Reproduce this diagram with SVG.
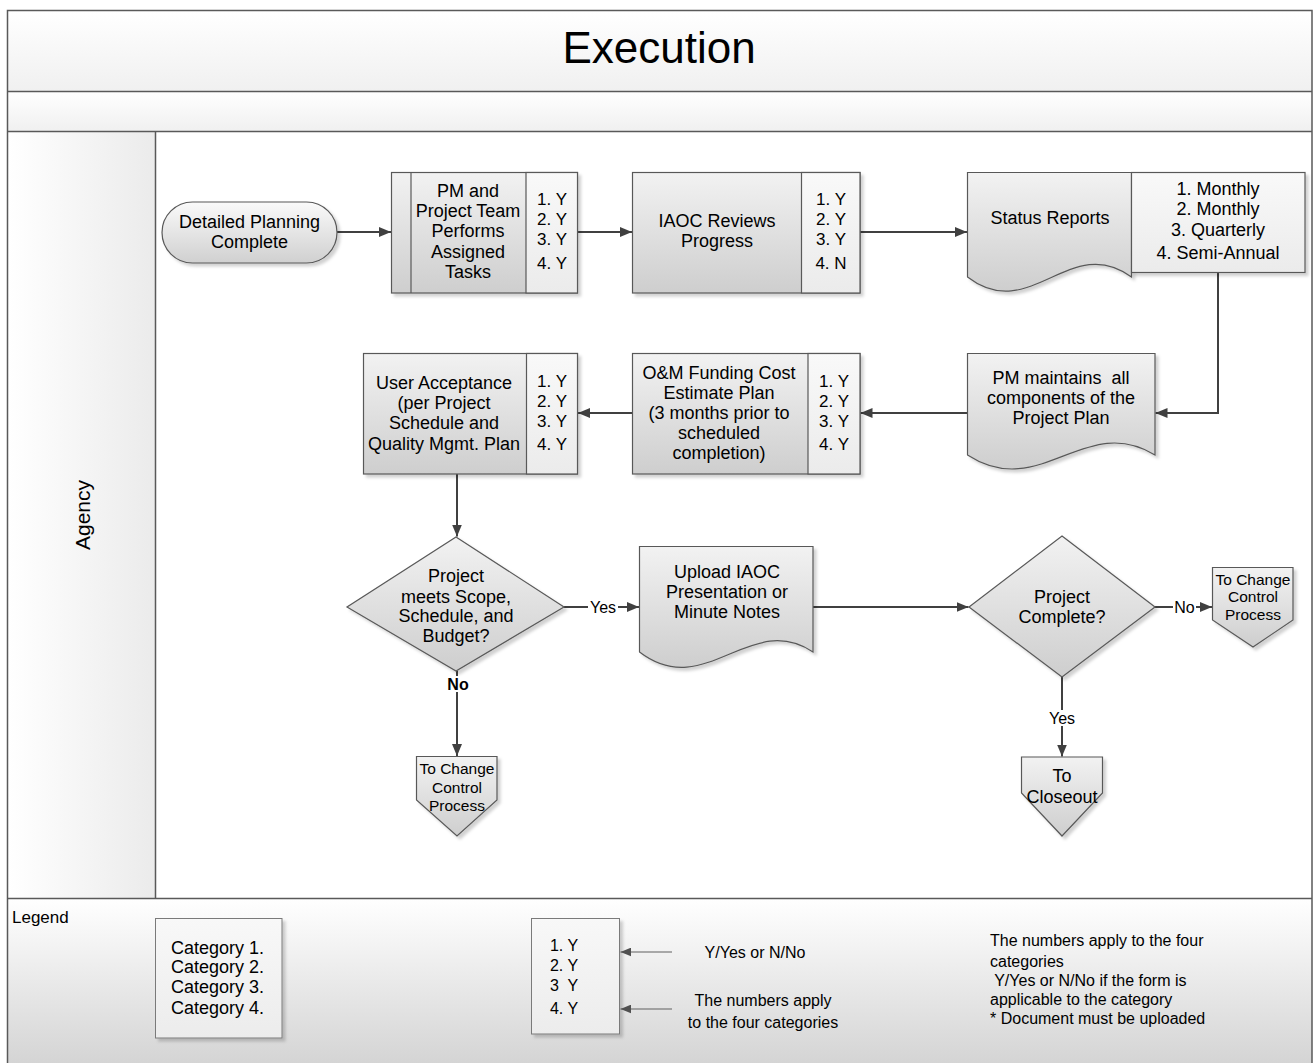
<svg xmlns="http://www.w3.org/2000/svg" width="1316" height="1063" viewBox="0 0 1316 1063">
<defs>
<linearGradient id="gTitle" x1="0" y1="0" x2="0" y2="1"><stop offset="0" stop-color="#ffffff"/><stop offset="1" stop-color="#f0f0f0"/></linearGradient>
<linearGradient id="gHead" x1="0" y1="0" x2="1" y2="0"><stop offset="0" stop-color="#ffffff"/><stop offset="1" stop-color="#ebebeb"/></linearGradient>
<linearGradient id="gLegend" x1="0" y1="0" x2="0" y2="1"><stop offset="0" stop-color="#ffffff"/><stop offset="1" stop-color="#d3d3d3"/></linearGradient>
<linearGradient id="gBox" x1="0" y1="0" x2="0" y2="1"><stop offset="0" stop-color="#f2f2f2"/><stop offset="1" stop-color="#cecece"/></linearGradient>
<linearGradient id="gPanel" x1="0" y1="0" x2="0" y2="1"><stop offset="0" stop-color="#f9f9f9"/><stop offset="1" stop-color="#ebebeb"/></linearGradient>
<linearGradient id="gTerm" x1="0" y1="0" x2="0" y2="1"><stop offset="0" stop-color="#fafafa"/><stop offset="1" stop-color="#d0d0d0"/></linearGradient>
<linearGradient id="gLeg" x1="0" y1="0" x2="0" y2="1"><stop offset="0" stop-color="#f8f8f8"/><stop offset="1" stop-color="#ececec"/></linearGradient>
<filter id="sh" x="-10%" y="-10%" width="130%" height="130%"><feDropShadow dx="3" dy="3" stdDeviation="1.5" flood-color="#000" flood-opacity="0.18"/></filter>
<marker id="arr" viewBox="0 0 12 10" refX="12" refY="5" markerWidth="12" markerHeight="10" markerUnits="userSpaceOnUse" orient="auto"><path d="M0,0 L12,5 L0,10 Z" fill="#404040"/></marker>
<marker id="arrS" viewBox="0 0 12 10" refX="12" refY="5" markerWidth="11" markerHeight="9" markerUnits="userSpaceOnUse" orient="auto"><path d="M0,0 L12,5 L0,10 Z" fill="#505050"/></marker>
</defs>
<style>
.frame{fill:none;stroke:#595959;stroke-width:1.5}
.ln{stroke:#595959;stroke-width:1.5;fill:none}
.box{fill:url(#gBox);stroke:#595959;stroke-width:1.2;filter:url(#sh)}
.panel{fill:url(#gPanel);stroke:#595959;stroke-width:1.2}
.term{fill:url(#gTerm);stroke:#595959;stroke-width:1.2;filter:url(#sh)}
.leg{fill:url(#gLeg);stroke:#7a7a7a;stroke-width:1;filter:url(#sh)}
.con{stroke:#404040;stroke-width:2;fill:none;marker-end:url(#arr)}
.conS{stroke:#606060;stroke-width:1.2;fill:none;marker-end:url(#arrS)}
text{font-family:"Liberation Sans",Arial,sans-serif;fill:#000;dominant-baseline:central}
.t{font-size:18px;text-anchor:middle}
.n{font-size:17px;text-anchor:middle}
.s{font-size:15.5px;text-anchor:middle}
.lab{font-size:16px;text-anchor:middle}
.lg{font-size:16px}
.cat{font-size:18px}
.bg{fill:#ffffff}
</style>

<g id="pool">
<rect x="7.5" y="10.5" width="1304.5" height="81" fill="url(#gTitle)"/>
<rect x="7.5" y="91.5" width="1304.5" height="40" fill="url(#gTitle)"/>
<rect x="7.5" y="131.5" width="148" height="767" fill="url(#gHead)"/>
<rect x="155.5" y="131.5" width="1156.5" height="767" fill="#ffffff"/>
<rect x="7.5" y="898.5" width="1304.5" height="170" fill="url(#gLegend)"/>
<path class="frame" d="M7.5,1070 V10.5 H1312 V1070"/>
<path class="ln" d="M7.5,91.5 H1312 M7.5,131.5 H1312 M7.5,898.5 H1312 M155.5,131.5 V898.5"/>
<text x="659" y="47" style="font-size:44px;text-anchor:middle">Execution</text>
<text transform="translate(82,515) rotate(-90)" style="font-size:21px;text-anchor:middle">Agency</text>
</g>

<g id="connectors">
<path class="con" d="M337,232 H391"/>
<path class="con" d="M577.5,232 H632"/>
<path class="con" d="M860,232 H967"/>
<path class="con" d="M1218,272.5 V413 H1155.5"/>
<path class="con" d="M967.5,413 H860.5"/>
<path class="con" d="M632.5,413 H578"/>
<path class="con" d="M457,474 V536.5"/>
<path class="con" d="M564,607 H639"/>
<rect class="bg" x="588" y="599" width="30" height="16"/>
<text class="lab" x="603" y="607">Yes</text>
<path class="con" d="M813,607 H968.5"/>
<path class="con" d="M1155,607 H1212"/>
<rect class="bg" x="1173" y="599" width="23" height="16"/>
<text class="lab" x="1184.5" y="607">No</text>
<path class="con" d="M1062,677 V756.5"/>
<rect class="bg" x="1047" y="710" width="30" height="16"/>
<text class="lab" x="1062" y="718">Yes</text>
<path class="con" d="M457,671 V756"/>
<rect class="bg" x="445" y="676" width="25" height="16"/>
<text class="lab" x="458" y="684" style="font-weight:bold">No</text>
</g>

<g id="n-start">
<rect class="term" x="162" y="202" width="175" height="61" rx="30.5"/>
<text class="t" x="249.5" y="222">Detailed Planning</text>
<text class="t" x="249.5" y="242">Complete</text>
</g>

<g id="n-perform">
<rect class="box" x="391.5" y="172.5" width="186" height="120.5"/>
<rect class="panel" x="526" y="172.5" width="51.5" height="120.5"/>
<path class="ln" d="M411,172.5 V293" style="stroke-width:1.2"/>
<text class="t" x="468" y="191">PM and</text>
<text class="t" x="468" y="211">Project Team</text>
<text class="t" x="468" y="231">Performs</text>
<text class="t" x="468" y="252">Assigned</text>
<text class="t" x="468" y="272">Tasks</text>
<text class="n" x="552" y="199">1. Y</text>
<text class="n" x="552" y="219">2. Y</text>
<text class="n" x="552" y="239">3. Y</text>
<text class="n" x="552" y="263">4. Y</text>
</g>

<g id="n-iaoc">
<rect class="box" x="632.5" y="172.5" width="227.5" height="120.5"/>
<rect class="panel" x="801.5" y="172.5" width="58.5" height="120.5"/>
<text class="t" x="717" y="221">IAOC Reviews</text>
<text class="t" x="717" y="241">Progress</text>
<text class="n" x="831" y="199">1. Y</text>
<text class="n" x="831" y="219">2. Y</text>
<text class="n" x="831" y="239">3. Y</text>
<text class="n" x="831" y="263">4. N</text>
</g>

<g id="n-status">
<path class="box" d="M967.5,172.5 H1131.5 V277 C1070,232 1030,325 967.5,277 Z"/>
<rect class="panel" x="1131.5" y="172.5" width="173.5" height="100" style="filter:url(#sh)"/>
<text class="t" x="1050" y="218">Status Reports</text>
<text class="t" x="1218" y="189">1. Monthly</text>
<text class="t" x="1218" y="209">2. Monthly</text>
<text class="t" x="1218" y="230">3. Quarterly</text>
<text class="t" x="1218" y="253">4. Semi-Annual</text>
</g>

<g id="n-pm">
<path class="box" d="M967.5,353.5 H1155 V455 C1085,412 1040,502 967.5,455 Z"/>
<text class="t" x="1061" y="378" style="white-space:pre">PM maintains  all</text>
<text class="t" x="1061" y="398">components of the</text>
<text class="t" x="1061" y="418">Project Plan</text>
</g>

<g id="n-om">
<rect class="box" x="632.5" y="353.5" width="227.5" height="120.5"/>
<rect class="panel" x="808" y="353.5" width="52" height="120.5"/>
<text class="t" x="719" y="373">O&amp;M Funding Cost</text>
<text class="t" x="719" y="393">Estimate Plan</text>
<text class="t" x="719" y="413">(3 months prior to</text>
<text class="t" x="719" y="433">scheduled</text>
<text class="t" x="719" y="453">completion)</text>
<text class="n" x="834" y="381">1. Y</text>
<text class="n" x="834" y="401">2. Y</text>
<text class="n" x="834" y="421">3. Y</text>
<text class="n" x="834" y="444">4. Y</text>
</g>

<g id="n-ua">
<rect class="box" x="363.5" y="353.5" width="214" height="120.5"/>
<rect class="panel" x="526.5" y="353.5" width="51" height="120.5"/>
<text class="t" x="444" y="383">User Acceptance</text>
<text class="t" x="444" y="403">(per Project</text>
<text class="t" x="444" y="423">Schedule and</text>
<text class="t" x="444" y="444">Quality Mgmt. Plan</text>
<text class="n" x="552" y="381">1. Y</text>
<text class="n" x="552" y="401">2. Y</text>
<text class="n" x="552" y="421">3. Y</text>
<text class="n" x="552" y="444">4. Y</text>
</g>

<g id="n-dec1">
<path class="box" d="M456,537 L564,607 L456,671 L347,607 Z"/>
<text class="t" x="456" y="576">Project</text>
<text class="t" x="456" y="597">meets Scope,</text>
<text class="t" x="456" y="616">Schedule, and</text>
<text class="t" x="456" y="636">Budget?</text>
</g>

<g id="n-upload">
<path class="box" d="M639.5,546.5 H813 V652 C750,610 705,702 639.5,652 Z"/>
<text class="t" x="727" y="572">Upload IAOC</text>
<text class="t" x="727" y="592">Presentation or</text>
<text class="t" x="727" y="612">Minute Notes</text>
</g>

<g id="n-dec2">
<path class="box" d="M1062,536 L1155,607 L1062,677 L969,607 Z"/>
<text class="t" x="1062" y="597">Project</text>
<text class="t" x="1062" y="617">Complete?</text>
</g>

<g id="n-off1">
<path class="box" d="M416.5,756.5 H497 V800 L457,836 L416.5,800 Z"/>
<text class="s" x="457" y="768">To Change</text>
<text class="s" x="457" y="787">Control</text>
<text class="s" x="457" y="805">Process</text>
</g>

<g id="n-off2">
<path class="box" d="M1212.5,567.5 H1293 V620 L1253,647 L1212.5,620 Z"/>
<text class="s" x="1253" y="579">To Change</text>
<text class="s" x="1253" y="596">Control</text>
<text class="s" x="1253" y="614">Process</text>
</g>

<g id="n-off3">
<path class="box" d="M1021.5,757 H1102.5 V793 L1062,836 L1021.5,793 Z"/>
<text class="t" x="1062" y="776">To</text>
<text class="t" x="1062" y="797">Closeout</text>
</g>

<g id="legend">
<text x="12" y="917" style="font-size:17px">Legend</text>
<rect class="leg" x="155.5" y="918.5" width="126.5" height="119.5"/>
<text class="cat" x="171" y="948">Category 1.</text>
<text class="cat" x="171" y="967">Category 2.</text>
<text class="cat" x="171" y="987">Category 3.</text>
<text class="cat" x="171" y="1008">Category 4.</text>
<rect class="leg" x="531.5" y="918.5" width="88" height="115.5"/>
<text class="lab" x="564" y="945">1. Y</text>
<text class="lab" x="564" y="965">2. Y</text>
<text class="lab" x="564" y="985" style="white-space:pre">3  Y</text>
<text class="lab" x="564" y="1008">4. Y</text>
<path class="conS" d="M672,952 H620.5"/>
<path class="conS" d="M672,1009 H620.5"/>
<text class="lab" x="755" y="952">Y/Yes or N/No</text>
<text class="lab" x="763" y="1000">The numbers apply</text>
<text class="lab" x="763" y="1022">to the four categories</text>
<text class="lg" x="990" y="940">The numbers apply to the four</text>
<text class="lg" x="990" y="961">categories</text>
<text class="lg" x="990" y="980" style="white-space:pre"> Y/Yes or N/No if the form is</text>
<text class="lg" x="990" y="999">applicable to the category</text>
<text class="lg" x="990" y="1018">* Document must be uploaded</text>
</g>
</svg>
